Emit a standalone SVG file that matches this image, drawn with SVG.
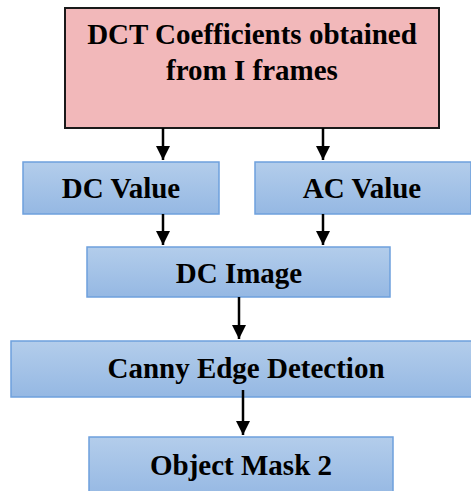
<svg xmlns="http://www.w3.org/2000/svg" width="471" height="491" viewBox="0 0 471 491">
<defs>
<linearGradient id="blue" x1="0" y1="0" x2="0" y2="1">
<stop offset="0" stop-color="#B3CDEB"/>
<stop offset="1" stop-color="#95B8E3"/>
</linearGradient>
<marker id="ah" markerWidth="14" markerHeight="14" refX="14" refY="7" orient="auto" markerUnits="userSpaceOnUse">
<path d="M0,0 L14,7 L0,14 Z" fill="#000"/>
</marker>
<style>
.box{fill:url(#blue);stroke:#6EA0DD;stroke-width:1.5}
.lbl{font-family:"Liberation Serif","Times New Roman",serif;font-weight:bold;font-size:29px;fill:#000;text-anchor:middle}
.conn{stroke:#000;stroke-width:2.5;fill:none;marker-end:url(#ah)}
</style>
</defs>
<rect width="471" height="491" fill="#fff"/>
<g id="dct">
<rect x="65" y="8" width="374" height="120" fill="#F2B8BA" stroke="#1a1a1a" stroke-width="2"/>
<text class="lbl" x="252" y="44">DCT Coefficients obtained</text>
<text class="lbl" x="252" y="80">from I frames</text>
</g>
<g id="dcvalue">
<rect class="box" x="23" y="162" width="196" height="52"/>
<text class="lbl" x="121" y="198">DC Value</text>
</g>
<g id="acvalue">
<rect class="box" x="255" y="162" width="216" height="52"/>
<text class="lbl" x="362" y="198">AC Value</text>
</g>
<g id="dcimage">
<rect class="box" x="87" y="247" width="303" height="50"/>
<text class="lbl" x="239" y="283">DC Image</text>
</g>
<g id="canny">
<rect class="box" x="11" y="341" width="470" height="56"/>
<text class="lbl" x="246" y="378">Canny Edge Detection</text>
</g>
<g id="mask">
<rect class="box" x="89" y="437" width="304" height="60"/>
<text class="lbl" x="241" y="475">Object Mask 2</text>
</g>
<g id="connectors">
<line class="conn" x1="163" y1="128" x2="163" y2="160"/>
<line class="conn" x1="323" y1="128" x2="323" y2="160"/>
<line class="conn" x1="163" y1="214" x2="163" y2="245"/>
<line class="conn" x1="323" y1="214" x2="323" y2="245"/>
<line class="conn" x1="239" y1="297" x2="239" y2="339"/>
<line class="conn" x1="243" y1="390" x2="243" y2="435"/>
</g>
</svg>
